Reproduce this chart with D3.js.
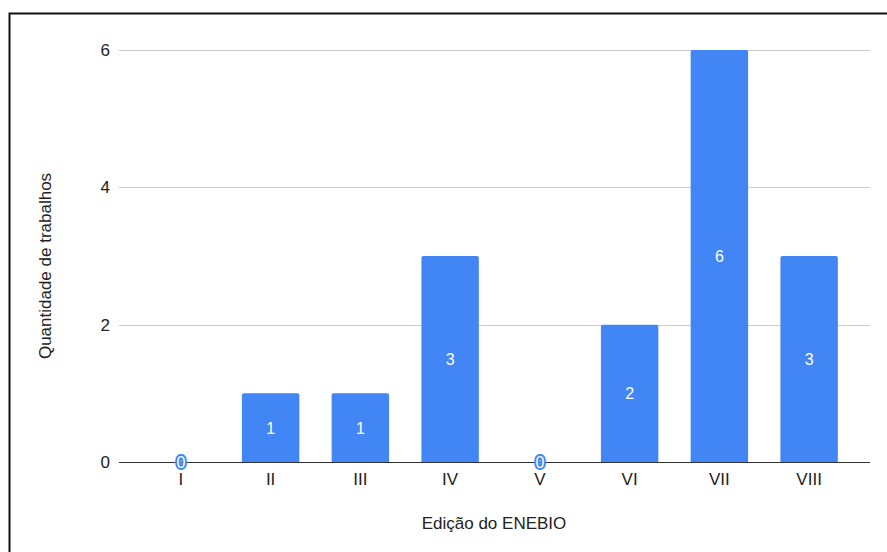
<!DOCTYPE html>
<html>
<head>
<meta charset="utf-8">
<script src="https://cdn.jsdelivr.net/npm/d3@7"></script>
<style>
  html, body { margin: 0; padding: 0; background: #fff; }
  svg { display: block; font-family: "Liberation Sans", Arial, sans-serif; }
</style>
</head>
<body>
<svg id="chart" width="887" height="552"></svg>
<script>
// Trabalhos por edição do ENEBIO
const categories = ["I", "II", "III", "IV", "V", "VI", "VII", "VIII"];
const values = [0, 1, 1, 3, 0, 2, 6, 3];
const yTicks = [0, 2, 4, 6];
const xTitle = "Edição do ENEBIO";
const yTitle = "Quantidade de trabalhos";

const svg = d3.select("#chart");
const blue = "#4285F4";
const textColor = "#222";
const fs = 17;

// frame
svg.append("rect")
  .attr("x", 9.5).attr("y", 13.5)
  .attr("width", 900).attr("height", 600)
  .attr("fill", "#fff").attr("stroke", "#111").attr("stroke-width", 2);

const gridLeft = 119, gridRight = 870;
const x = d3.scaleBand().domain(categories).range([136, 854]).paddingInner(0.36).paddingOuter(0.18);
const y = d3.scaleLinear().domain([0, 6]).range([462, 50]);

// horizontal gridlines
svg.append("g").selectAll("line")
  .data(yTicks.filter(d => d !== 0))
  .join("line")
  .attr("x1", gridLeft).attr("x2", gridRight)
  .attr("y1", d => Math.round(y(d)) + 0.5).attr("y2", d => Math.round(y(d)) + 0.5)
  .attr("stroke", "#cccccc").attr("stroke-width", 1);

// y tick labels
svg.append("g").selectAll("text")
  .data(yTicks)
  .join("text")
  .attr("x", 110).attr("y", d => y(d) + 6)
  .attr("text-anchor", "end")
  .attr("font-size", fs).attr("fill", textColor)
  .text(d => d);

// bars with slightly rounded tops
const r = 2;
svg.append("g").selectAll("path")
  .data(categories.map((c, i) => ({ c, v: values[i] })).filter(d => d.v > 0))
  .join("path")
  .attr("fill", blue)
  .attr("d", d => {
    const x0 = x(d.c), w = x.bandwidth(), y0 = y(d.v), yb = y(0);
    return `M${x0},${yb} V${y0 + r} Q${x0},${y0} ${x0 + r},${y0} H${x0 + w - r} Q${x0 + w},${y0} ${x0 + w},${y0 + r} V${yb} Z`;
  });

// baseline
svg.append("line")
  .attr("x1", gridLeft).attr("x2", gridRight)
  .attr("y1", y(0) + 0.5).attr("y2", y(0) + 0.5)
  .attr("stroke", "#333").attr("stroke-width", 1);

// value labels
svg.append("g").selectAll("text")
  .data(categories.map((c, i) => ({ c, v: values[i] })))
  .join("text")
  .attr("x", d => x(d.c) + x.bandwidth() / 2)
  .attr("y", d => d.v > 0 ? (y(d.v) + y(0)) / 2 + 6 : y(0) + 6)
  .attr("text-anchor", "middle")
  .attr("font-size", 16)
  .attr("fill", "#fff")
  .attr("stroke", d => d.v > 0 ? "none" : blue)
  .attr("stroke-width", d => d.v > 0 ? 0 : 4)
  .attr("stroke-linejoin", "round")
  .attr("paint-order", "stroke")
  .text(d => d.v);

// x category labels
svg.append("g").selectAll("text")
  .data(categories)
  .join("text")
  .attr("x", d => x(d) + x.bandwidth() / 2)
  .attr("y", 485)
  .attr("text-anchor", "middle")
  .attr("font-size", fs).attr("fill", textColor)
  .text(d => d);

// axis titles
svg.append("text")
  .attr("x", 494).attr("y", 529)
  .attr("text-anchor", "middle")
  .attr("font-size", fs).attr("fill", textColor)
  .text(xTitle);

svg.append("text")
  .attr("transform", "translate(51,266) rotate(-90)")
  .attr("text-anchor", "middle")
  .attr("font-size", fs).attr("fill", textColor)
  .text(yTitle);
</script>
</body>
</html>
